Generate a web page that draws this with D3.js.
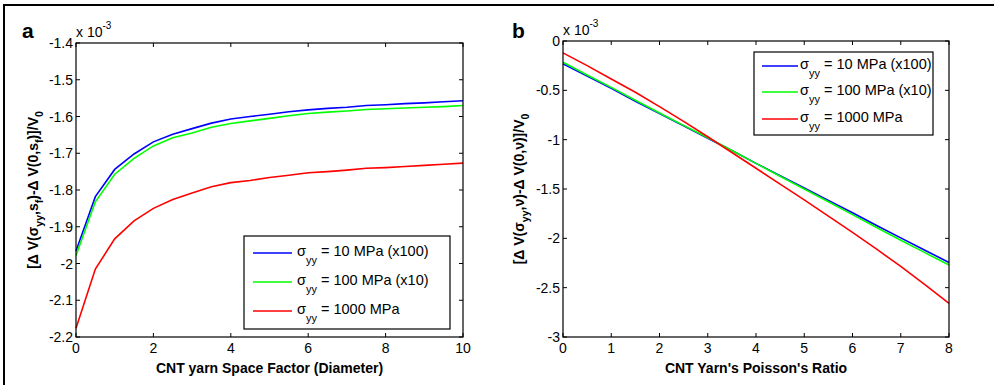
<!DOCTYPE html>
<html>
<head>
<meta charset="utf-8">
<script src="https://d3js.org/d3.v7.min.js"></script>
<style>
  body { margin: 0; background: #fff; }
  text { font-family: "Liberation Sans", Arial, sans-serif; fill: #000; }
  .tick-label { font-size: 14px; }
  .axis-title { font-size: 14px; font-weight: bold; }
  .panel-letter { font-size: 21px; font-weight: bold; }
  .legend-text { font-size: 14.5px; }
</style>
</head>
<body>
<script>
// ---- data (values in units of 1e-3) ----
var seriesNames = ["10 MPa (x100)", "100 MPa (x10)", "1000 MPa"];
var seriesColors = ["#0000ff", "#00ff00", "#ff0000"];

// panel a: CNT yarn space factor
var spaceFactor = [0, 0.5, 1, 1.5, 2, 2.5, 3, 3.5, 4, 4.5, 5, 5.5, 6, 6.5, 7, 7.5, 8, 8.5, 9, 9.5, 10];
var aBlue  = [-1.966, -1.818, -1.744, -1.702, -1.669, -1.648, -1.633, -1.618, -1.607, -1.600, -1.594, -1.587, -1.582, -1.578, -1.575, -1.570, -1.568, -1.565, -1.563, -1.560, -1.557];
var aGreen = [-1.978, -1.832, -1.757, -1.714, -1.680, -1.658, -1.645, -1.629, -1.619, -1.612, -1.605, -1.598, -1.592, -1.588, -1.585, -1.581, -1.579, -1.577, -1.575, -1.573, -1.570];
var aRed   = [-2.176, -2.015, -1.933, -1.884, -1.850, -1.826, -1.808, -1.791, -1.780, -1.774, -1.766, -1.760, -1.753, -1.750, -1.746, -1.741, -1.739, -1.736, -1.733, -1.730, -1.727];

// panel b: CNT yarn Poisson's ratio
var poisson = [0, 0.5, 1, 1.5, 2, 2.5, 3, 3.5, 4, 4.5, 5, 5.5, 6, 6.5, 7, 7.5, 8];
var bBlue  = [-0.230, -0.355, -0.480, -0.610, -0.735, -0.860, -0.985, -1.110, -1.240, -1.365, -1.490, -1.615, -1.740, -1.870, -1.995, -2.120, -2.245];
var bGreen = [-0.215, -0.345, -0.470, -0.600, -0.730, -0.855, -0.980, -1.110, -1.240, -1.370, -1.500, -1.630, -1.760, -1.890, -2.020, -2.145, -2.270];
var bRed   = [-0.120, -0.250, -0.385, -0.520, -0.665, -0.815, -0.970, -1.130, -1.290, -1.450, -1.610, -1.775, -1.940, -2.110, -2.285, -2.470, -2.660];

var aXTicks = [0, 2, 4, 6, 8, 10];
var aYTicks = [-2.2, -2.1, -2, -1.9, -1.8, -1.7, -1.6, -1.5, -1.4];
var bXTicks = [0, 1, 2, 3, 4, 5, 6, 7, 8];
var bYTicks = [-3, -2.5, -2, -1.5, -1, -0.5, 0];

var W = 994, H = 385;
var svg = d3.select("body").append("svg").attr("width", W).attr("height", H);

// outer frame (cut off at right and bottom)
svg.append("rect").attr("x", 4).attr("y", 5).attr("width", 1100).attr("height", 500)
  .attr("fill", "none").attr("stroke", "#000").attr("stroke-width", 2);

function fmt(d) { return String(+d.toFixed(1)); }

function panel(opt) {
  var x = d3.scaleLinear().domain(opt.xDomain).range([opt.left, opt.right]);
  var y = d3.scaleLinear().domain(opt.yDomain).range([opt.bottom, opt.top]);
  var g = svg.append("g");
  var tl = 4;

  // lines
  var line = d3.line().x(function(d) { return x(d[0]); }).y(function(d) { return y(d[1]); });
  opt.series.forEach(function(s, i) {
    g.append("path")
      .datum(opt.xs.map(function(v, j) { return [v, s[j]]; }))
      .attr("d", line).attr("fill", "none")
      .attr("stroke", seriesColors[i]).attr("stroke-width", 1.6);
  });

  // box
  g.append("rect").attr("x", opt.left).attr("y", opt.top)
    .attr("width", opt.right - opt.left).attr("height", opt.bottom - opt.top)
    .attr("fill", "none").attr("stroke", "#000").attr("stroke-width", 1.2);

  // ticks, inward, all four sides
  opt.xTicks.forEach(function(t) {
    var px = x(t);
    g.append("line").attr("x1", px).attr("x2", px).attr("y1", opt.bottom).attr("y2", opt.bottom - tl).attr("stroke", "#000");
    g.append("line").attr("x1", px).attr("x2", px).attr("y1", opt.top).attr("y2", opt.top + tl).attr("stroke", "#000");
    g.append("text").attr("class", "tick-label").attr("x", px).attr("y", opt.bottom + 16)
      .attr("text-anchor", "middle").text(fmt(t));
  });
  opt.yTicks.forEach(function(t) {
    var py = y(t);
    g.append("line").attr("x1", opt.left).attr("x2", opt.left + tl).attr("y1", py).attr("y2", py).attr("stroke", "#000");
    g.append("line").attr("x1", opt.right).attr("x2", opt.right - tl).attr("y1", py).attr("y2", py).attr("stroke", "#000");
    g.append("text").attr("class", "tick-label").attr("x", opt.left - 3).attr("y", py + 5)
      .attr("text-anchor", "end").text(fmt(t));
  });

  // exponent label
  var ex = g.append("text").attr("class", "tick-label").attr("x", opt.left).attr("y", opt.top - 6);
  ex.append("tspan").text("x 10");
  ex.append("tspan").attr("dy", -8).style("font-size", "10px").text("-3");

  // panel letter
  g.append("text").attr("class", "panel-letter").attr("x", opt.letterX).attr("y", 38).text(opt.letter);

  // x title
  g.append("text").attr("class", "axis-title").attr("x", (opt.left + opt.right) / 2).attr("y", 373)
    .attr("text-anchor", "middle").text(opt.xTitle);

  // y title (rotated, with subscripts)
  var yt = g.append("text").attr("class", "axis-title")
    .attr("transform", "translate(" + opt.yTitleX + "," + ((opt.top + opt.bottom) / 2) + ") rotate(-90)")
    .attr("text-anchor", "middle");
  opt.yTitle.forEach(function(p) {
    var ts = yt.append("tspan").text(p[0]);
    if (p[1] === "sub") ts.attr("dy", 5).style("font-size", "10.5px");
    if (p[1] === "up") ts.attr("dy", -5);
  });

  // legend
  var L = opt.legend;
  g.append("rect").attr("x", L.x0).attr("y", L.y0).attr("width", L.x1 - L.x0).attr("height", L.y1 - L.y0)
    .attr("fill", "#fff").attr("stroke", "#000").attr("stroke-width", 1.2);
  seriesNames.forEach(function(name, i) {
    var ry = L.rows[i];
    g.append("line").attr("x1", L.lx0).attr("x2", L.lx1).attr("y1", ry).attr("y2", ry)
      .attr("stroke", seriesColors[i]).attr("stroke-width", 1.6);
    var t = g.append("text").attr("class", "legend-text").attr("x", L.tx).attr("y", ry + 3);
    t.append("tspan").text("σ");
    t.append("tspan").attr("dy", 8).style("font-size", "11px").text("yy");
    t.append("tspan").attr("dy", -8).text(" = " + name);
  });
}

panel({
  left: 76, right: 463, top: 43, bottom: 337,
  xDomain: [0, 10], yDomain: [-2.2, -1.4],
  xs: spaceFactor, series: [aBlue, aGreen, aRed],
  xTicks: aXTicks, yTicks: aYTicks,
  letter: "a", letterX: 22,
  xTitle: "CNT yarn Space Factor (Diameter)",
  yTitleX: 38,
  yTitle: [["[Δ V(σ"], ["yy", "sub"], [",s", "up"], ["f", "sub"], [")-Δ V(0,s", "up"], ["f", "sub"], [")]/V", "up"], ["0", "sub"]],
  legend: { x0: 244, x1: 450, y0: 236, y1: 329, lx0: 253, lx1: 292, tx: 297, rows: [253, 282, 311] }
});

panel({
  left: 563, right: 949, top: 41, bottom: 337,
  xDomain: [0, 8], yDomain: [-3, 0],
  xs: poisson, series: [bBlue, bGreen, bRed],
  xTicks: bXTicks, yTicks: bYTicks,
  letter: "b", letterX: 512,
  xTitle: "CNT Yarn's Poisson's Ratio",
  yTitleX: 524,
  yTitle: [["[Δ V(σ"], ["yy", "sub"], [",ν)-Δ V(0,ν)]/V", "up"], ["0", "sub"]],
  legend: { x0: 754, x1: 933, y0: 52, y1: 135, lx0: 762, lx1: 798, tx: 800, rows: [66, 92, 119] }
});
</script>
</body>
</html>
